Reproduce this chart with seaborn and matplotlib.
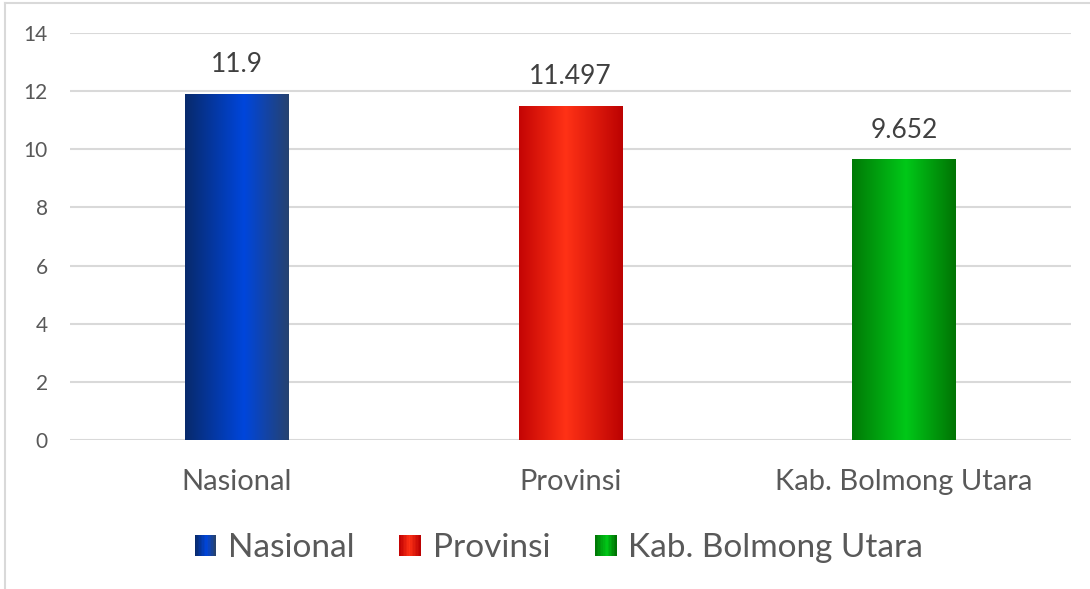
import matplotlib
matplotlib.use("Agg")
import matplotlib.pyplot as plt
import seaborn as sns
import numpy as np
import pandas as pd
from matplotlib.legend_handler import HandlerBase
from matplotlib.patches import Rectangle
from matplotlib.lines import Line2D

# data
categories = ["Nasional", "Provinsi", "Kab. Bolmong Utara"]
values = [11.9, 11.497, 9.652]
value_labels = ["11.9", "11.497", "9.652"]
yticks = [0, 2, 4, 6, 8, 10, 12, 14]

# gradient stops per bar (left, middle, right)
gradients = {
    "Nasional": [(0.0, "#082a6c"), (0.57, "#0046dc"), (1.0, "#264270")],
    "Provinsi": [(0.0, "#c40404"), (0.45, "#ff3216"), (1.0, "#bc0202")],
    "Kab. Bolmong Utara": [(0.0, "#007a06"), (0.52, "#00c818"), (1.0, "#007404")],
}
mid_colors = {"Nasional": "#0040c8", "Provinsi": "#f02a12", "Kab. Bolmong Utara": "#00b414"}


def gradient_row(stops, n=200):
    pos = np.array([s[0] for s in stops])
    cols = np.array([matplotlib.colors.to_rgb(s[1]) for s in stops])
    t = np.linspace(0, 1, n)
    row = np.stack([np.interp(t, pos, cols[:, k]) for k in range(3)], axis=1)
    return row[np.newaxis, :, :]


class GradientHandler(HandlerBase):
    def __init__(self, stops):
        super().__init__()
        self.stops = stops

    def create_artists(self, legend, orig_handle, xdescent, ydescent, width, height, fontsize, trans):
        side = height * 0.92
        x0 = -xdescent + (width - side)
        y0 = -ydescent + (height - side) / 2
        row = gradient_row(self.stops, 14)[0]
        artists = []
        n = len(row)
        for i, c in enumerate(row):
            artists.append(Rectangle((x0 + i * side / n, y0), side / n * 1.05, side,
                                     facecolor=c, edgecolor="none", transform=trans))
        return artists


df = pd.DataFrame({"cat": categories, "val": values})

plt.rcParams["font.family"] = ["Lato", "DejaVu Sans"]
fig = plt.figure(figsize=(10.9, 5.89), dpi=100)
ax = fig.add_axes([70 / 1090, 1 - 440 / 589, (1071 - 70) / 1090, (440 - 33) / 589])

sns.barplot(data=df, x="cat", y="val", hue="cat", palette=mid_colors, width=0.31,
            legend=False, ax=ax, saturation=1)

text_col = "#595959"
for patch in list(ax.patches):
    x, y = patch.get_x(), patch.get_y()
    w, h = patch.get_width(), patch.get_height()
    idx = int(round(x + w / 2))
    cat = categories[idx]
    img = ax.imshow(gradient_row(gradients[cat]), extent=[x, x + w, y, y + h],
                    aspect="auto", zorder=2, interpolation="bilinear")
    img.set_clip_path(patch)
    patch.set_facecolor("none")
    patch.set_edgecolor("none")

for i, lab in enumerate(value_labels):
    ax.annotate(lab, (i, values[i]), xytext=(0, 12), textcoords="offset points",
                ha="center", va="bottom", fontsize=19, color="#404040")

ax.set_xlim(-0.5, 2.5)
ax.set_ylim(0, 14)
ax.set_yticks(yticks)
ax.set_yticklabels([str(v) for v in yticks])
ax.yaxis.grid(True, color="#d9d9d9", linewidth=1.5)
ax.set_axisbelow(True)
for s in ax.spines.values():
    s.set_visible(False)
ax.tick_params(axis="y", length=0, labelsize=15, colors=text_col, pad=16)
ax.tick_params(axis="x", length=0, labelsize=21, colors=text_col, pad=21)
ax.set_xlabel("")
ax.set_ylabel("")

handles = [Line2D([], []) for _ in categories]
leg = fig.legend(handles, categories, loc="center", bbox_to_anchor=(558 / 1090, 1 - 548 / 589),
                 ncol=3, frameon=False, fontsize=24, handlelength=0.7, handletextpad=0.35,
                 columnspacing=1.3,
                 handler_map={h: GradientHandler(gradients[c]) for h, c in zip(handles, categories)})
for t in leg.get_texts():
    t.set_color(text_col)

# chart border (left and top visible)
fig.add_artist(Line2D([5 / 1090, 5 / 1090], [0, 1 - 3 / 589], transform=fig.transFigure,
                      color="#d9d9d9", linewidth=1.5))
fig.add_artist(Line2D([5 / 1090, 1], [1 - 3 / 589, 1 - 3 / 589], transform=fig.transFigure,
                      color="#d9d9d9", linewidth=1.5))

fig.savefig("out.png", dpi=100)
